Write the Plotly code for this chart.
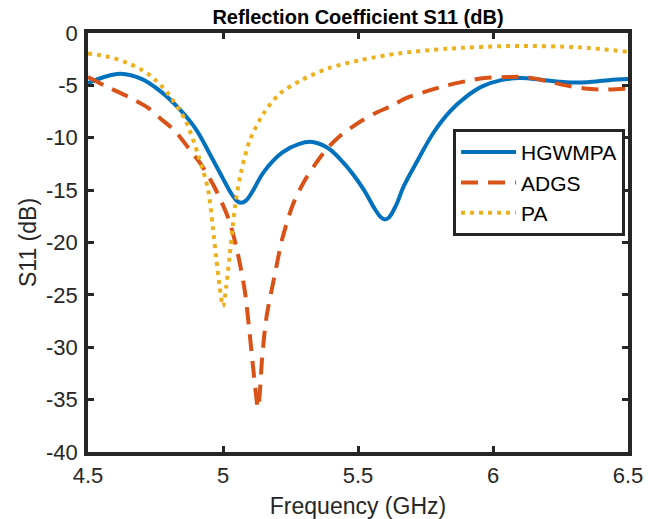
import plotly.graph_objects as go

# Frequency (GHz) / S11 (dB) samples for each antenna
hgwmpa_f = [4.50, 4.56, 4.62, 4.70, 4.77, 4.84, 4.90, 4.95, 5.00, 5.03, 5.05, 5.066, 5.085,
            5.11, 5.15, 5.22, 5.28, 5.33, 5.39, 5.45, 5.52, 5.56, 5.585, 5.60, 5.615, 5.64,
            5.67, 5.72, 5.78, 5.84, 5.90, 5.96, 6.03, 6.10, 6.19, 6.27, 6.35, 6.43, 6.50]
hgwmpa_s11 = [-4.8, -4.2, -3.9, -4.4, -5.6, -7.3, -9.2, -11.5, -13.9, -15.3, -16.0, -16.2, -16.0,
              -15.1, -13.3, -11.4, -10.6, -10.4, -11.0, -12.5, -14.9, -16.7, -17.6, -17.8, -17.6, -16.5,
              -14.6, -12.2, -9.5, -7.5, -6.1, -5.1, -4.5, -4.3, -4.5, -4.7, -4.7, -4.5, -4.4]

adgs_f = [4.50, 4.56, 4.65, 4.72, 4.77, 4.82, 4.87, 4.92, 4.97, 5.02, 5.05, 5.08,
          5.10, 5.115, 5.13, 5.145, 5.16, 5.19, 5.22, 5.26, 5.30, 5.34, 5.38, 5.43,
          5.50, 5.56, 5.62, 5.68, 5.75, 5.83, 5.90, 5.97, 6.05, 6.12, 6.20, 6.27,
          6.34, 6.41, 6.50]
adgs_s11 = [-4.2, -5.0, -6.1, -7.1, -8.2, -9.3, -10.9, -12.6, -14.8, -17.7, -20.5, -24.5,
            -29.0, -32.8, -35.8, -31.0, -27.3, -23.3, -19.6, -16.3, -14.2, -12.6, -11.2, -9.9,
            -8.6, -7.7, -7.0, -6.2, -5.6, -5.0, -4.6, -4.3, -4.2, -4.2, -4.6, -5.0,
            -5.3, -5.4, -5.3]

pa_f = [4.50, 4.58, 4.65, 4.72, 4.77, 4.80, 4.86, 4.91, 4.945, 4.962, 4.975, 4.988,
        5.00, 5.012, 5.024, 5.036, 5.045, 5.066, 5.10, 5.15, 5.21, 5.29, 5.39, 5.51,
        5.65, 5.83, 6.07, 6.32, 6.50]
pa_s11 = [-1.95, -2.3, -2.9, -3.85, -5.0, -5.9, -8.3, -11.8, -15.0, -18.5, -21.5, -24.3,
          -26.1, -24.2, -21.4, -18.5, -16.5, -13.4, -10.2, -7.7, -5.8, -4.5, -3.37, -2.58,
          -1.95, -1.5, -1.24, -1.37, -1.8]

x_ticks = [4.5, 5, 5.5, 6, 6.5]
y_ticks = [0, -5, -10, -15, -20, -25, -30, -35, -40]

FONT = "Liberation Sans, Arial, Helvetica, sans-serif"
AXIS_COLOR = "#262626"

fig = go.Figure()
fig.add_trace(go.Scatter(x=hgwmpa_f, y=hgwmpa_s11, name="HGWMPA", mode="lines",
                         line=dict(color="#0072BD", width=4, shape="spline", smoothing=1)))
fig.add_trace(go.Scatter(x=adgs_f, y=adgs_s11, name="ADGS", mode="lines",
                         line=dict(color="#D95319", width=4, dash="17px,10px",
                                   shape="spline", smoothing=0.8)))
fig.add_trace(go.Scatter(x=pa_f, y=pa_s11, name="PA", mode="lines",
                         line=dict(color="#EDB120", width=4, dash="4px,5px",
                                   shape="spline", smoothing=0.8)))

axis_common = dict(
    showline=True, linecolor=AXIS_COLOR, linewidth=3.5, mirror="ticks",
    ticks="inside", ticklen=6, tickwidth=3, tickcolor=AXIS_COLOR,
    showgrid=False, zeroline=False, automargin=False,
    tickfont=dict(family=FONT, size=22, color=AXIS_COLOR),
)

fig.update_xaxes(range=[4.5, 6.5], tickvals=x_ticks, ticktext=[str(v) for v in x_ticks],
                 ticklabelstandoff=1,
                 title=dict(text="Frequency (GHz)", standoff=15,
                            font=dict(family=FONT, size=23, color=AXIS_COLOR)),
                 **axis_common)
fig.update_yaxes(range=[-40, 0], tickvals=y_ticks, ticktext=[str(v) for v in y_ticks],
                 ticklabelstandoff=2,
                 title=dict(text="S11 (dB)", standoff=4,
                            font=dict(family=FONT, size=23, color=AXIS_COLOR)),
                 **axis_common)

fig.update_layout(
    width=659, height=519,
    margin=dict(l=88, r=31, t=33, b=67),
    paper_bgcolor="white", plot_bgcolor="white",
    title=dict(text="<b>Reflection Coefficient S11 (dB)</b>", x=0.5, xref="paper",
               y=1 - 17 / 519, yref="container", yanchor="middle",
               font=dict(family=FONT, size=20, color="black")),
    legend=dict(x=0.676, y=0.771, xanchor="left", yanchor="top",
                bgcolor="white", bordercolor=AXIS_COLOR, borderwidth=3,
                itemwidth=55, tracegroupgap=0,
                font=dict(family=FONT, size=21, color="black")),
)

fig.write_html("out.html")
